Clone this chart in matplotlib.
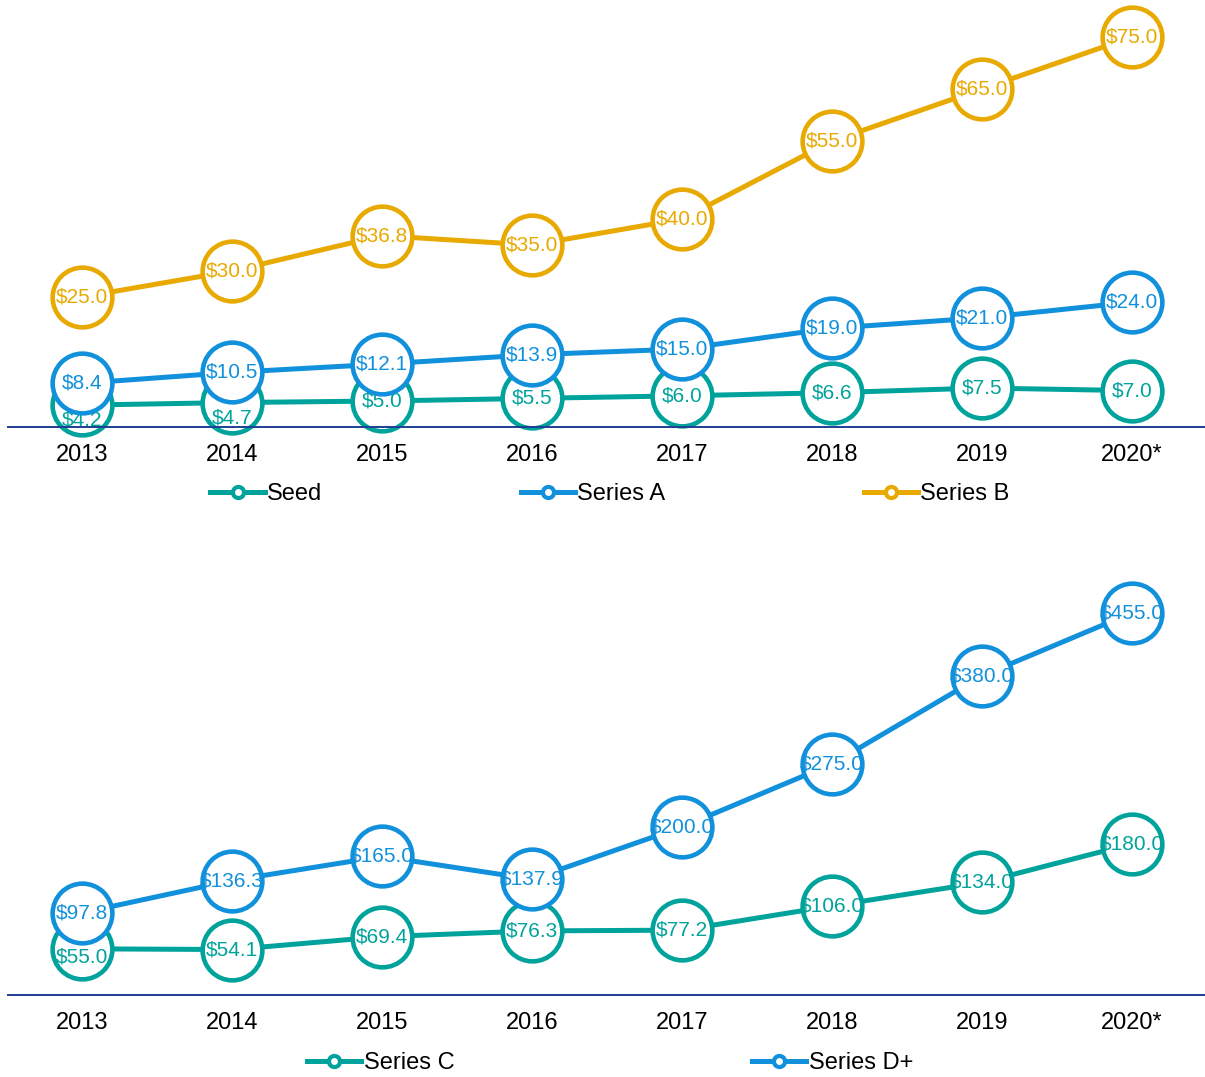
import matplotlib
matplotlib.use("Agg")
import matplotlib.pyplot as plt
from matplotlib.lines import Line2D

plt.rcParams['font.family'] = ['Liberation Sans', 'DejaVu Sans']

years = ["2013", "2014", "2015", "2016", "2017", "2018", "2019", "2020*"]

seed = [4.2, 4.7, 5.0, 5.5, 6.0, 6.6, 7.5, 7.0]
series_a = [8.4, 10.5, 12.1, 13.9, 15.0, 19.0, 21.0, 24.0]
series_b = [25.0, 30.0, 36.8, 35.0, 40.0, 55.0, 65.0, 75.0]
series_c = [55.0, 54.1, 69.4, 76.3, 77.2, 106.0, 134.0, 180.0]
series_d = [97.8, 136.3, 165.0, 137.9, 200.0, 275.0, 380.0, 455.0]

TEAL = "#00A39B"
BLUE = "#1190DC"
GOLD = "#E8A900"
AXIS = "#1F3F94"

W, H = 1205, 1077
fig = plt.figure(figsize=(W / 100, H / 100), dpi=100)

def px_axes(x0, y_top, x1, y_bot):
    return fig.add_axes([x0 / W, 1 - y_bot / H, (x1 - x0) / W, (y_bot - y_top) / H])

ax1 = px_axes(8, 0, 1205, 427)
ax2 = px_axes(8, 540, 1205, 995)

xs = list(range(len(years)))
x_lo = -(82 - 8) / 150
x_hi = (1205 - 82) / 150

def style(ax, ymax):
    ax.set_xlim(x_lo, x_hi)
    ax.set_ylim(0, ymax)
    for s in ["top", "right", "left"]:
        ax.spines[s].set_visible(False)
    ax.spines["bottom"].set_color(AXIS)
    ax.spines["bottom"].set_linewidth(1.4)
    ax.set_yticks([])
    ax.set_xticks(xs)
    ax.set_xticklabels(years, fontsize=17)
    ax.tick_params(axis="x", length=0, pad=12)
    ax.patch.set_alpha(0)

style(ax1, 427 / 5.2)
style(ax2, 455 / 0.84)

MS = 43
MEW = 3.3
LW = 3.6

def draw(ax, vals, color, z, offsets=None):
    offsets = offsets or {}
    ax.plot(xs, vals, color=color, lw=LW, marker="o", ms=MS, mfc="white",
            mec=color, mew=MEW, zorder=z, clip_on=False)
    for i, v in enumerate(vals):
        dy = offsets.get(i, 0)
        ax.annotate(f"${v:.1f}", (i, v), xytext=(0, dy), textcoords="offset points",
                    ha="center", va="center", color=color, fontsize=15,
                    zorder=z + 0.5, annotation_clip=False)

draw(ax1, seed, TEAL, 2, {0: -11, 1: -11})
draw(ax1, series_a, BLUE, 4)
draw(ax1, series_b, GOLD, 6)
draw(ax2, series_c, TEAL, 2, {0: -6})
draw(ax2, series_d, BLUE, 4)

def handle(color):
    return Line2D([0], [0], color=color, lw=LW, marker="o", ms=8, mfc="white",
                  mec=color, mew=3)

fig.legend([handle(TEAL), handle(BLUE), handle(GOLD)], ["Seed", "Series A", "Series B"],
           loc="center", bbox_to_anchor=(610 / W, 1 - 494 / H), ncol=3, frameon=False,
           fontsize=17, handlelength=2.3, handletextpad=0.1, columnspacing=8.4)
fig.legend([handle(TEAL), handle(BLUE)], ["Series C", "Series D+"],
           loc="center", bbox_to_anchor=(610 / W, 1 - 1063 / H), ncol=2, frameon=False,
           fontsize=17, handlelength=2.3, handletextpad=0.1, columnspacing=12.6)

fig.savefig("out.png", dpi=100)
